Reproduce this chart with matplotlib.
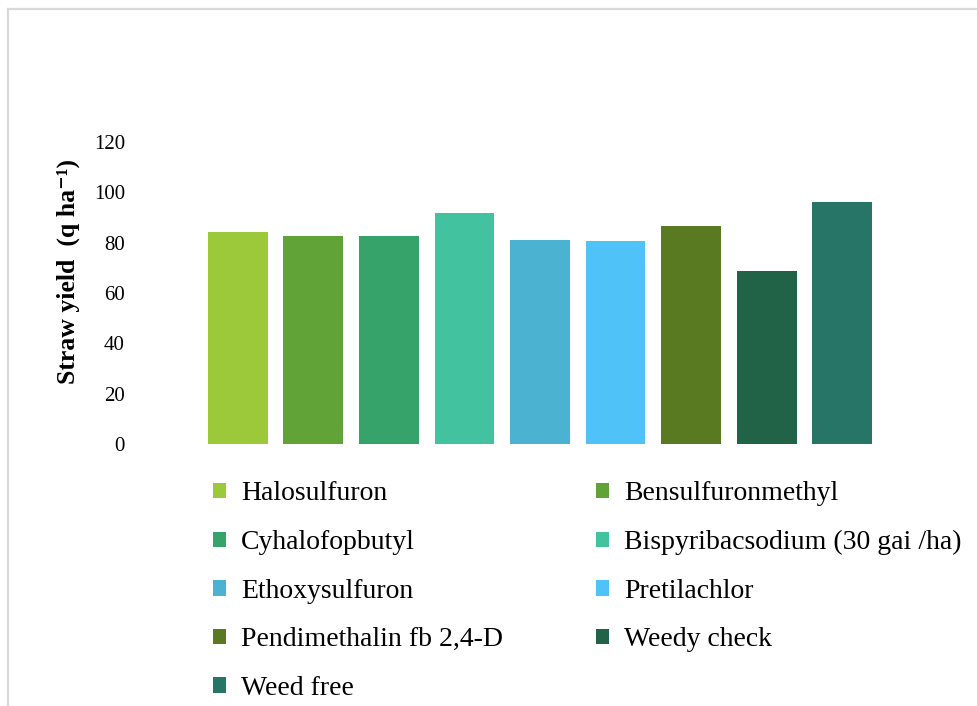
import matplotlib
matplotlib.use("Agg")
import matplotlib.pyplot as plt
from matplotlib.patches import Patch
from matplotlib.lines import Line2D

treatments = ["Halosulfuron", "Bensulfuronmethyl", "Cyhalofopbutyl",
              "Bispyribacsodium (30 gai /ha)", "Ethoxysulfuron", "Pretilachlor",
              "Pendimethalin fb 2,4-D", "Weedy check", "Weed free"]
straw_yield = [84.3, 82.6, 82.5, 91.6, 81.0, 80.6, 86.8, 68.7, 96.0]
colors = ["#9BC93A", "#62A338", "#35A36A", "#43C2A0", "#4BB2D1",
          "#4FC3F7", "#5A7A22", "#206346", "#267566"]
yticks = [0, 20, 40, 60, 80, 100, 120]

plt.rcParams['font.family'] = ['Liberation Serif', 'DejaVu Serif']

W, H = 978, 706
fig = plt.figure(figsize=(W / 100, H / 100), dpi=100)

# frame lines (left & top) of the reference image
fig.add_artist(Line2D([8 / W, 8 / W], [0, 1 - 9 / H], transform=fig.transFigure,
                      color="#d9d9d9", lw=1.6))
fig.add_artist(Line2D([8 / W, 1], [1 - 9 / H, 1 - 9 / H], transform=fig.transFigure,
                      color="#d9d9d9", lw=1.6))

ax_left, ax_right = 200, 880
ax_top, ax_bot = 142, 444
ax = fig.add_axes([ax_left / W, 1 - ax_bot / H, (ax_right - ax_left) / W, (ax_bot - ax_top) / H])

x = list(range(len(treatments)))
bars = ax.bar(x, straw_yield, width=0.79, color=colors)
ax.set_xlim(-0.5, len(treatments) - 0.5)
ax.set_ylim(0, 120)
ax.set_yticks(yticks)
ax.set_yticklabels([str(t) for t in yticks], fontsize=15)
ax.tick_params(axis='y', length=0, pad=54)
ax.set_xticks([])
for s in ax.spines.values():
    s.set_visible(False)

fig.text(68 / W, 1 - 271 / H, "Straw yield  (q ha\u207b\u00b9)", rotation=90,
         ha="center", va="center", fontsize=18.5, fontweight="bold")

handles = [Patch(facecolor=c, edgecolor="none") for c in colors]
left_idx = [0, 2, 4, 6, 8]
right_idx = [1, 3, 5, 7]
common = dict(frameon=False, fontsize=20, handlelength=0.48, handleheight=0.48,
              handletextpad=0.52, labelspacing=0.85, borderpad=0, borderaxespad=0,
              loc="upper left")
leg1 = fig.legend([handles[i] for i in left_idx], [treatments[i] for i in left_idx],
                  bbox_to_anchor=(213 / W, 1 - 481.5 / H), **common)
leg2 = fig.legend([handles[i] for i in right_idx], [treatments[i] for i in right_idx],
                  bbox_to_anchor=(596 / W, 1 - 481.5 / H), **common)

fig.savefig("out.png", dpi=100)
